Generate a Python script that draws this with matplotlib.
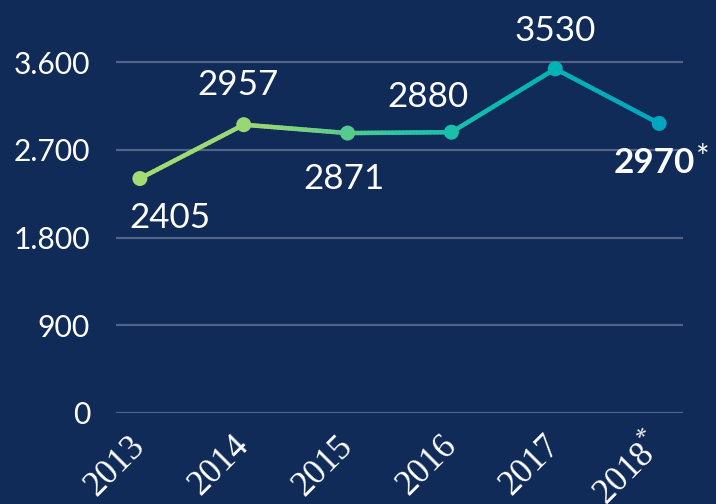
import numpy as np
import matplotlib
matplotlib.use("Agg")
import matplotlib.pyplot as plt
from matplotlib.collections import LineCollection
from matplotlib.colors import LinearSegmentedColormap

years = ['2013', '2014', '2015', '2016', '2017', '2018*']
values = [2405, 2957, 2871, 2880, 3530, 2970]
value_labels = ['2405', '2957', '2871', '2880', '3530', '2970*']
ytick_values = [0, 900, 1800, 2700, 3600]
ytick_labels = ['0', '900', '1.800', '2.700', '3.600']

BG = '#102b57'
GRID = '#4f6488'
plt.rcParams['font.family'] = ['Lato', 'DejaVu Sans']
plt.rcParams['mathtext.fontset'] = 'custom'
plt.rcParams['mathtext.rm'] = 'Liberation Serif'

fig = plt.figure(figsize=(716 / 72, 504 / 72), dpi=72, facecolor=BG)
ax = fig.add_axes([116 / 716, 91 / 504, 567 / 716, 390 / 504], facecolor=BG)

x = np.arange(len(values))
ax.set_xlim(-0.23, len(values) - 1 + 0.23)
ax.set_ylim(0, 4000)

for v in ytick_values:
    ax.axhline(v, color=GRID, lw=2.2, zorder=1)

cmap = LinearSegmentedColormap.from_list('g', ['#a3dc72', '#96d676', '#2cc4a2', '#00b7b4', '#00a6c0'])

# gradient line
segs, cols = [], []
n = 30
for i in range(len(values) - 1):
    xs = np.linspace(x[i], x[i + 1], n + 1)
    ys = np.linspace(values[i], values[i + 1], n + 1)
    for j in range(n):
        segs.append([(xs[j], ys[j]), (xs[j + 1], ys[j + 1])])
        cols.append(cmap(((xs[j] + xs[j + 1]) / 2) / (len(values) - 1)))
lc = LineCollection(segs, colors=cols, linewidths=4.5, capstyle='round', zorder=2)
ax.add_collection(lc)
ax.scatter(x, values, s=15 ** 2, c=[cmap(xi / (len(values) - 1)) for xi in x], zorder=3, linewidths=0)

offsets = [(30, -39), (-6, 40), (-4, -46), (-23, 35), (0, 38), (4, -40)]
for i, (v, lab, off) in enumerate(zip(values, value_labels, offsets)):
    last = i == len(values) - 1
    if last and lab.endswith('*'):
        ax.annotate(lab[:-1], (x[i], v), xytext=(off[0] - 9, off[1]), textcoords='offset points',
                    ha='center', va='center', color='white', fontsize=35,
                    fontweight='bold', zorder=4)
        ax.annotate('*', (x[i], v), xytext=(off[0] + 40, off[1] + 4), textcoords='offset points',
                    ha='center', va='center', color='white', fontsize=32, zorder=4)
    else:
        ax.annotate(lab, (x[i], v), xytext=off, textcoords='offset points',
                    ha='center', va='center', color='white', fontsize=35, zorder=4)

ax.set_yticks(ytick_values)
ax.set_yticklabels(ytick_labels)
ax.set_xticks(x)
ax.set_xticklabels([y.replace('*', '$^{*}$') for y in years])
ax.tick_params(axis='y', length=0, pad=26, labelsize=30, labelcolor='white')
ax.tick_params(axis='x', length=0, pad=28, labelsize=35, labelcolor='white')
for lbl in ax.get_xticklabels():
    lbl.set_family(['Liberation Serif'])
    lbl.set_rotation(45)
    lbl.set_ha('right')
    lbl.set_va('center')
    lbl.set_rotation_mode('anchor')
for s in ax.spines.values():
    s.set_visible(False)

fig.savefig('out.png', dpi=72, facecolor=BG)
